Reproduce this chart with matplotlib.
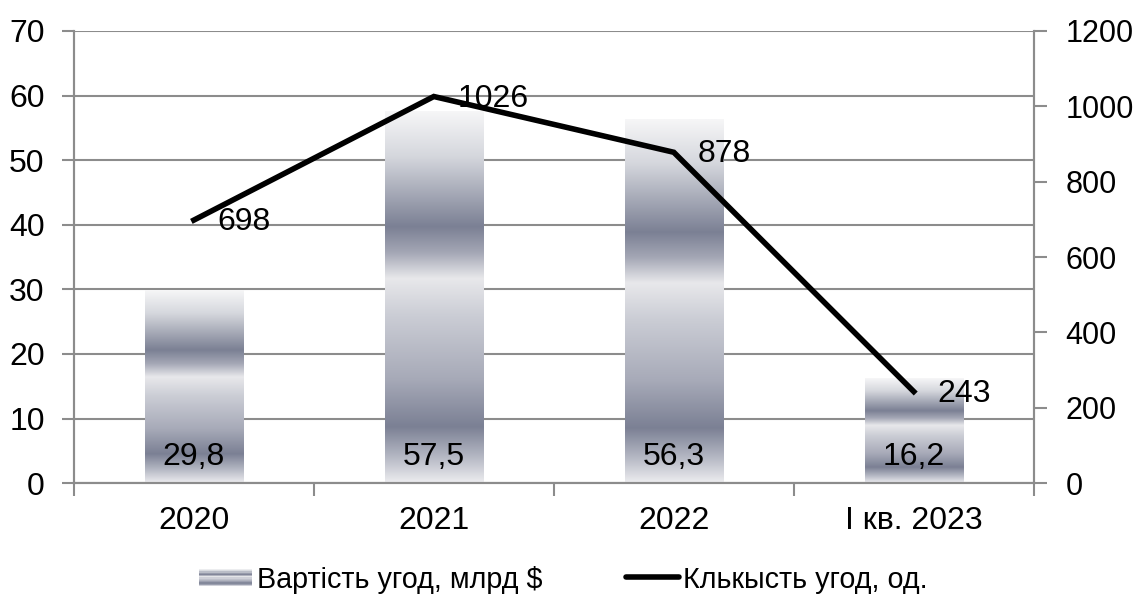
import matplotlib
matplotlib.use("Agg")
import matplotlib.pyplot as plt
import numpy as np
from matplotlib.colors import LinearSegmentedColormap
from matplotlib.patches import Rectangle
from matplotlib.lines import Line2D
from matplotlib.legend_handler import HandlerBase

categories = ["2020", "2021", "2022", "I кв. 2023"]
deal_value = [29.8, 57.5, 56.3, 16.2]
deal_count = [698, 1026, 878, 243]
value_labels = ["29,8", "57,5", "56,3", "16,2"]
count_labels = ["698", "1026", "878", "243"]
left_ticks = [0, 10, 20, 30, 40, 50, 60, 70]
right_ticks = [0, 200, 400, 600, 800, 1000, 1200]
series_names = ["Вартість угод, млрд $", "Клькысть угод, од."]

plt.rcParams['font.family'] = ['Liberation Sans', 'DejaVu Sans']
plt.rcParams['font.size'] = 23
FS = 23

# gradient: position from top (0) to bottom (1)
grad_cmap = LinearSegmentedColormap.from_list("bargrad", [
    (0.00, "#F6F6F7"),
    (0.12, "#D5D7DD"),
    (0.31, "#7B8094"),
    (0.38, "#A4A7B5"),
    (0.45, "#E8E8EB"),
    (0.55, "#CBCDD5"),
    (0.72, "#A7AAB8"),
    (0.85, "#7B8094"),
    (0.93, "#B4B7C3"),
    (1.00, "#ECECEF"),
])

fig = plt.figure(figsize=(11.36, 5.95), dpi=100)
ax = fig.add_axes([0.065, 0.188, 0.845, 0.76])
ax2 = ax.twinx()

x = np.arange(len(categories))
bar_w = 0.41
bars = ax.bar(x, deal_value, width=bar_w, color="none", edgecolor="none", zorder=2)
grad = np.linspace(0, 1, 256).reshape(-1, 1)
for b in bars:
    x0, y0 = b.get_x(), b.get_y()
    ax.imshow(grad, cmap=grad_cmap, extent=[x0, x0 + b.get_width(), y0, y0 + b.get_height()],
              origin="upper", aspect="auto", zorder=2, interpolation="bilinear")

for xi, lab in zip(x, value_labels):
    ax.annotate(lab, (xi, 0), xytext=(0, 26), textcoords="offset pixels",
                ha="center", va="center", fontsize=FS, zorder=5)

ax.set_xlim(-0.5, len(categories) - 0.5)
ax.set_ylim(0, 70)
ax.set_yticks(left_ticks)
ax.set_yticklabels([str(t) for t in left_ticks])
ax.set_xticks(x)
ax.set_xticklabels(categories)
ax.set_xticks(np.arange(len(categories) + 1) - 0.5, minor=True)
ax.tick_params(axis="x", which="major", length=0, pad=16.5)
ax.tick_params(axis="x", which="minor", length=9, width=1.5, color="#8C8C8C")
ax.tick_params(axis="y", length=9, width=1.5, color="#8C8C8C", pad=12)
ax.grid(axis="y", color="#8C8C8C", linewidth=1.5, zorder=0)
ax.set_axisbelow(True)
ax.spines["top"].set_visible(False)
for s in ["left", "bottom", "right"]:
    ax.spines[s].set_color("#8C8C8C")
    ax.spines[s].set_linewidth(1.5)

ax2.plot(x, deal_count, color="black", linewidth=4, solid_joinstyle="miter", zorder=4)
for xi, v, lab in zip(x, deal_count, count_labels):
    ax2.annotate(lab, (xi, v), xytext=(24, -2), textcoords="offset pixels",
                 ha="left", va="center", fontsize=FS)
ax2.set_ylim(0, 1200)
ax2.set_yticks(right_ticks)
ax2.set_yticklabels([str(t) for t in right_ticks], fontsize=22)
ax2.tick_params(axis="y", length=9, width=1.5, color="#8C8C8C", pad=14)
ax2.spines["top"].set_visible(False)
for s in ["left", "bottom", "right"]:
    ax2.spines[s].set_color("#8C8C8C")
    ax2.spines[s].set_linewidth(1.5)


class GradientHandler(HandlerBase):
    def create_artists(self, legend, orig_handle, xdescent, ydescent, width, height, fontsize, trans):
        n = 14
        h = height * 0.85
        base = -ydescent + (height - h) / 2
        arts = []
        for i in range(n):
            frac = (i + 0.5) / n
            arts.append(Rectangle((-xdescent, base + h * (1 - (i + 1) / n)), width, h / n,
                                  facecolor=grad_cmap(frac), edgecolor="none", transform=trans))
        return arts


LFS = 20.7
h_bar = Rectangle((0, 0), 1, 1)
h_line = Line2D([0], [0], color="black", linewidth=4, solid_capstyle="round")
leg = fig.legend([h_bar, h_line], series_names, loc="center", bbox_to_anchor=(0.496, 0.026),
                 ncol=2, frameon=False, handlelength=1.85, handletextpad=0.15, columnspacing=2.9,
                 handler_map={Rectangle: GradientHandler()}, fontsize=LFS)

fig.savefig("out.png", dpi=100)
